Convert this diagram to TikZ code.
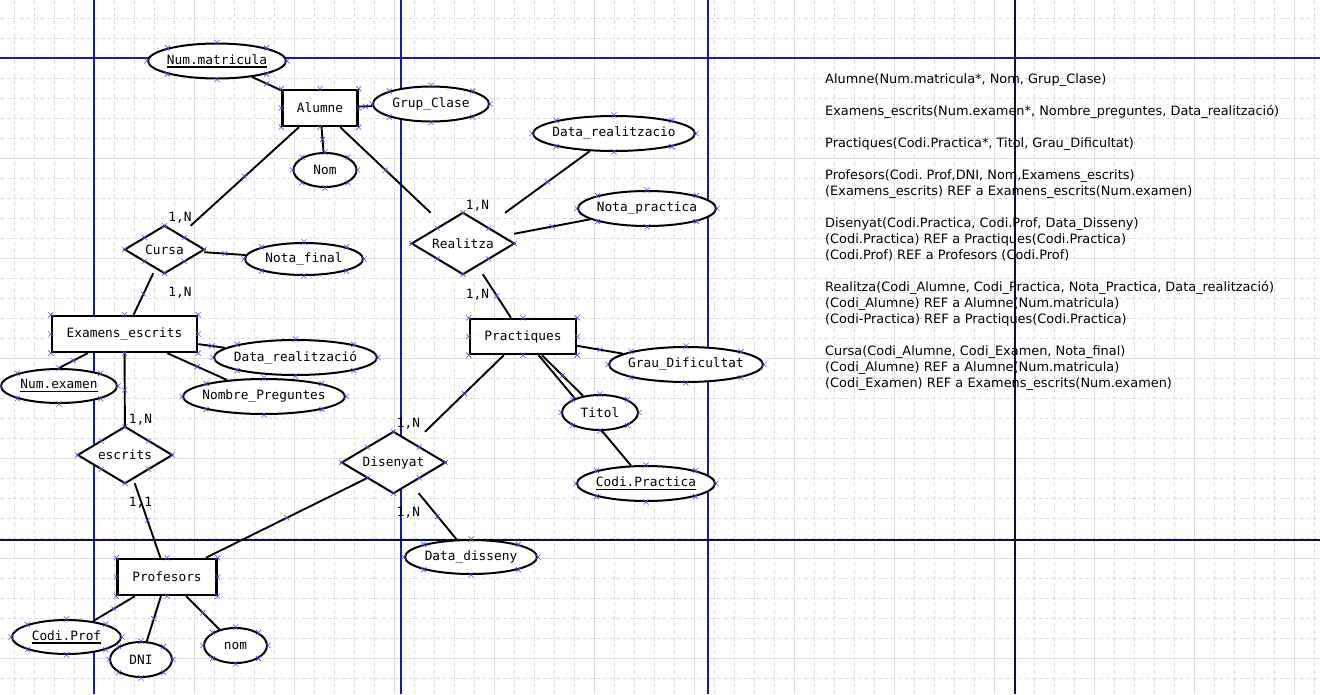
\documentclass[tikz,border=0pt]{standalone}
\usepackage{fontspec}
\setmainfont{DejaVu Sans}
\newfontfamily\erfont{DejaVu Sans Mono}
\usepackage{tikz}
\usetikzlibrary{shapes.geometric, shapes.misc}
\usetikzlibrary{calc}
\usetikzlibrary{backgrounds}
\frenchspacing

\definecolor{graella}{RGB}{212,226,224}
\definecolor{pagina}{RGB}{24,24,170}
\definecolor{paginafosc}{RGB}{12,12,80}
\definecolor{marcablau}{RGB}{80,80,235}

\newsavebox\clauBox
\newcommand{\clau}[1]{\sbox\clauBox{#1}\rlap{\rule[-3.5pt]{\wd\clauBox}{1.4pt}}\usebox\clauBox}

\tikzset{
    lletra/.style={font=\erfont\fontsize{12.8pt}{15pt}\selectfont},
    entitat/.style={lletra, rectangle, draw, fill=white, line width=2.4pt, inner sep=0pt},
    atribut/.style={lletra, ellipse, draw, fill=white, line width=2pt, inner xsep=-6pt, inner ysep=0pt},
    relacio/.style={lletra, rectangle, inner sep=0pt},
    rombe/.style={draw, fill=white, line width=2pt},
    card/.style={lletra, inner sep=0pt, anchor=base},
    enllac/.style={line width=1.9pt},
    marca/.style={cross out, draw=marcablau, line width=0.6pt, minimum size=4.5pt, inner sep=0pt},
    menor/.style={graella, line width=0.8pt, dash pattern=on 4pt off 2.7pt},
    major/.style={graella, line width=1pt}
}

\begin{document}
\begin{tikzpicture}[x=1pt, y=-1pt]
    \useasboundingbox (0,0) rectangle (1320,694);

    % entitats, atributs i relacions
    \node[atribut, minimum width=138pt, minimum height=35pt] (nummat) at (217,61) {\clau{Num.matricula}};
    \node[entitat, minimum width=75pt, minimum height=36pt] (alumne) at (320,108) {Alumne};
    \node[atribut, minimum width=116pt, minimum height=35pt] (grup) at (431,104) {Grup\_Clase};
    \node[atribut, minimum width=63pt, minimum height=34pt] (nom) at (325,170) {Nom};
    \node[relacio, minimum width=79pt, minimum height=47pt] (cursa) at (164.5,249.5) {Cursa};
    \node[atribut, minimum width=118pt, minimum height=32pt] (notafinal) at (304,259) {Nota\_final};
    \node[relacio, minimum width=102pt, minimum height=61pt] (realitza) at (463,243.5) {Realitza};
    \node[atribut, minimum width=162pt, minimum height=35pt] (datarealp) at (614,133.5) {Data\_realitzacio};
    \node[atribut, minimum width=138pt, minimum height=35pt] (notapract) at (647,208.5) {Nota\_practica};
    \node[entitat, minimum width=145pt, minimum height=36pt] (examens) at (124.5,334) {Examens\_escrits};
    \node[atribut, minimum width=163pt, minimum height=35pt] (datareale) at (295.5,357.5) {Data\_realització};
    \node[atribut, minimum width=162pt, minimum height=35pt] (nombrepreg) at (264,396.5) {Nombre\_Preguntes};
    \node[atribut, minimum width=116pt, minimum height=34pt] (numexamen) at (59,386) {\clau{Num.examen}};
    \node[relacio, minimum width=94pt, minimum height=56pt] (escrits) at (125,455) {escrits};
    \node[entitat, minimum width=99pt, minimum height=36pt] (profesors) at (167,577) {Profesors};
    \node[atribut, minimum width=109pt, minimum height=34pt] (codiprof) at (66.5,637) {\clau{Codi.Prof}};
    \node[atribut, minimum width=62pt, minimum height=35pt] (dni) at (141,659.5) {DNI};
    \node[atribut, minimum width=63pt, minimum height=35pt] (nomprof) at (235.5,645.5) {nom};
    \node[entitat, minimum width=106pt, minimum height=35pt] (practiques) at (523,336.5) {Practiques};
    \node[atribut, minimum width=154pt, minimum height=35pt] (grau) at (686,364.5) {Grau\_Dificultat};
    \node[atribut, minimum width=76pt, minimum height=35pt] (titol) at (600,412.5) {Titol};
    \node[atribut, minimum width=138pt, minimum height=35pt] (codipract) at (646,483.5) {\clau{Codi.Practica}};
    \node[relacio, minimum width=103pt, minimum height=61pt] (disenyat) at (393.5,462.5) {Disenyat};
    \node[atribut, minimum width=132pt, minimum height=34pt] (datadisseny) at (471,557) {Data\_disseny};

    % cardinalitats
    \node[card] (cAlumneCursa) at (180,221) {1,N};
    \node[card] (cExamensCursa) at (180,296) {1,N};
    \node[card] (cExamensEscrits) at (140.5,423) {1,N};
    \node[card] (cProfesorsEscrits) at (140.5,506) {1,1};
    \node[card] (cAlumneRealitza) at (477.5,209) {1,N};
    \node[card] (cPractiquesRealitza) at (477.5,298) {1,N};
    \node[card] (cPractiquesDisenyat) at (408.5,427) {1,N};
    \node[card] (cDataDisenyat) at (408.5,516) {1,N};

    % model relacional (base = darrera linia)
    \node[anchor=base west, align=left, inner sep=0pt, font=\fontsize{12.9pt}{16pt}\selectfont] (relacional) at (825,387) {%
        Alumne(Num.matricula*, Nom, Grup\_Clase)\\[16pt]
        Examens\_escrits(Num.examen*, Nombre\_preguntes, Data\_realització)\\[16pt]
        Practiques(Codi.Practica*, Titol, Grau\_Dificultat)\\[16pt]
        Profesors(Codi. Prof,DNI, Nom,Examens\_escrits)\\
        (Examens\_escrits) REF a Examens\_escrits(Num.examen)\\[16pt]
        Disenyat(Codi.Practica, Codi.Prof, Data\_Disseny)\\
        (Codi.Practica) REF a Practiques(Codi.Practica)\\
        (Codi.Prof) REF a Profesors (Codi.Prof)\\[16pt]
        Realitza(Codi\_Alumne, Codi\_Practica, Nota\_Practica, Data\_realització)\\
        (Codi\_Alumne) REF a Alumne(Num.matricula)\\
        (Codi-Practica) REF a Practiques(Codi.Practica)\\[16pt]
        Cursa(Codi\_Alumne, Codi\_Examen, Nota\_final)\\
        (Codi\_Alumne) REF a Alumne(Num.matricula)\\
        (Codi\_Examen) REF a Examens\_escrits(Num.examen)};

    % punts de connexio
    \foreach \n in {nummat,alumne,grup,nom,notafinal,datarealp,notapract,examens,datareale,nombrepreg,numexamen,profesors,codiprof,dni,nomprof,practiques,grau,titol,codipract,datadisseny}
        \foreach \a in {north,north east,east,south east,south,south west,west,north west}
            \node[marca] at (\n.\a) {};
    \foreach \r in {cursa,realitza,disenyat,escrits} {
        \foreach \a in {north,east,south,west}
            \node[marca] at (\r.\a) {};
        \foreach \a in {north east,south east,south west,north west}
            \node[marca] at ($(\r.center)!.5!(\r.\a)$) {};
    }

    \begin{pgfonlayer}{background}
        % graella i pagines
        \foreach \gx in {14,34,...,1314}
            \draw[menor] (\gx,0) -- (\gx,694);
        \foreach \gy in {18,38,...,678}
            \draw[menor] (0,\gy) -- (1320,\gy);
        \foreach \gx in {94,194,...,1294}
            \draw[major] (\gx,0) -- (\gx,694);
        \foreach \gy in {58,158,...,658}
            \draw[major] (0,\gy) -- (1320,\gy);
        \foreach \px in {94,401,708}
            \draw[pagina, line width=1.2pt] (\px,0) -- (\px,694);
        \draw[paginafosc, line width=1.2pt] (1015,0) -- (1015,694);
        \draw[pagina, line width=1.2pt] (0,58) -- (1320,58);
        \draw[paginafosc, line width=1.2pt] (0,540) -- (1320,540);

        % rombes
        \foreach \r in {cursa,realitza,disenyat,escrits}
            \draw[rombe] (\r.north) -- (\r.east) -- (\r.south) -- (\r.west) -- cycle;

        % enllacos
        \draw[enllac] (nummat) -- node[marca] {} (alumne);
        \draw[enllac] (alumne) -- node[marca] {} (grup);
        \draw[enllac] (alumne) -- node[marca] {} (nom);
        \draw[enllac] (alumne) -- node[marca] {} (cursa);
        \draw[enllac] (alumne) -- node[marca] {} (realitza);
        \draw[enllac] (cursa) -- node[marca] {} (notafinal);
        \draw[enllac] (cursa) -- node[marca] {} (examens);
        \draw[enllac] (examens) -- node[marca] {} (datareale);
        \draw[enllac] (examens) -- node[marca] {} (nombrepreg);
        \draw[enllac] ($(examens.south west)!.25!(examens.south east)$) -- node[marca] {} (numexamen.north);
        \draw[enllac] (examens) -- node[marca] {} (escrits);
        \draw[enllac] (escrits) -- node[marca] {} (profesors);
        \draw[enllac] (profesors) -- node[marca] {} (codiprof);
        \draw[enllac] (profesors) -- node[marca] {} (dni);
        \draw[enllac] (profesors) -- node[marca] {} (nomprof);
        \draw[enllac] (profesors) -- node[marca] {} ($(disenyat.center)!.5!(disenyat.south west)$);
        \draw[enllac] (disenyat) -- node[marca] {} (practiques);
        \draw[enllac] (disenyat) -- node[marca] {} (datadisseny);
        \draw[enllac] (realitza) -- node[marca] {} (datarealp);
        \draw[enllac] (realitza) -- node[marca] {} (notapract);
        \draw[enllac] (realitza) -- node[marca] {} (practiques);
        \draw[enllac] (practiques) -- node[marca] {} (grau);
        \draw[enllac] (practiques) -- node[marca] {} (titol);
        \draw[enllac] (practiques) -- node[marca] {} (codipract);
    \end{pgfonlayer}
\end{tikzpicture}
\end{document}
